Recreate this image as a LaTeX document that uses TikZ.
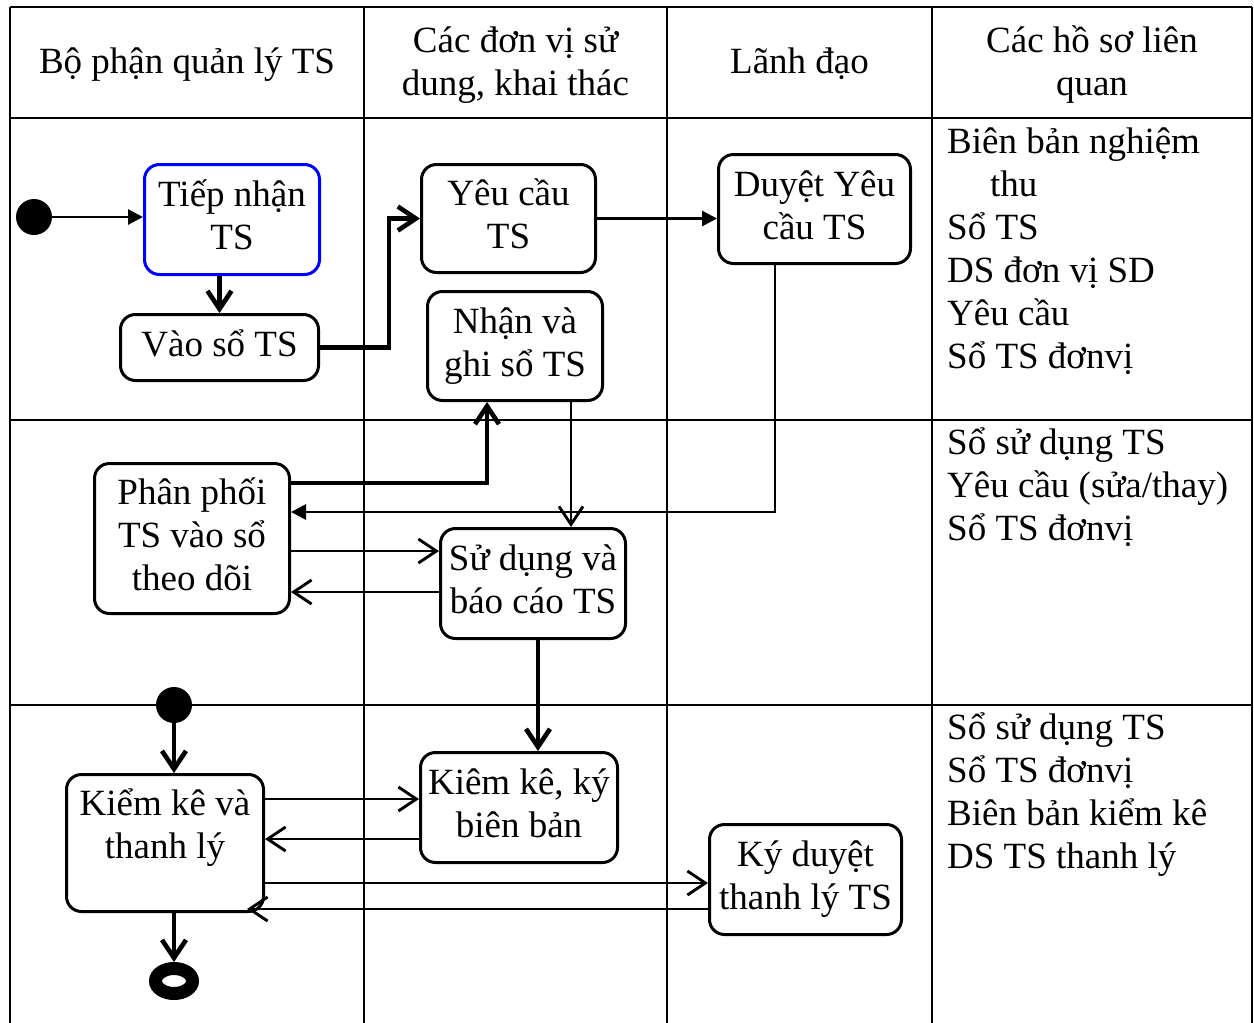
\documentclass[tikz,border=0pt]{standalone}
\usepackage{fontspec}
\setmainfont{Liberation Serif}
\usetikzlibrary{arrows.meta,shapes.geometric,calc}
\begin{document}
\begin{tikzpicture}[x=1pt,y=-1pt,
  grid/.style={line width=2.6pt},
  box/.style={draw, line width=3pt, rounded corners=15pt, rectangle, inner sep=0pt,
    anchor=north west, align=center, font=\fontsize{37}{43}\selectfont},
  txt/.style={inner sep=0pt, align=center, font=\fontsize{37}{43}\selectfont},
  doc/.style={inner sep=0pt, align=left, anchor=north west, font=\fontsize{37}{43}\selectfont},
  flow/.style={line width=2.9pt},
  bold flow/.style={line width=4.6pt},
  barb/.style={-{Straight Barb[length=18pt,width=24pt]}},
  tri/.style={-{Triangle[length=15pt,width=15pt]}},
  dot/.style={circle, fill=black, minimum size=36pt, inner sep=0pt},
]
\useasboundingbox (0,0) rectangle (1254,1023);

% swimlane table
\draw[grid] (10,7) -- (1252,7);
\draw[grid] (10,118) -- (1252,118);
\draw[grid] (10,420) -- (1252,420);
\draw[grid] (10,705) -- (1252,705);
\foreach \cx in {10,364,667,932,1252}
  \draw[grid] (\cx,7) -- (\cx,1023);

% lane headers
\node[txt] (h1) at (187,65) {\strut Bộ phận quản lý TS};
\node[txt] (h2) at (515.5,65) {\strut Các đơn vị sử\\\strut dung, khai thác};
\node[txt] (h3) at (799.5,65) {\strut Lãnh đạo};
\node[txt] (h4) at (1092,65) {\strut Các hồ sơ liên\\\strut quan};

% related documents
\node[doc] (docA) at (947,123) {\strut Biên bản nghiệm\\\strut\hspace*{43pt}thu\\\strut Sổ TS\\\strut DS đơn vị SD\\\strut Yêu cầu\\\strut Sổ TS đơnvị};
\node[doc] (docB) at (947,424) {\strut Sổ sử dụng TS\\\strut Yêu cầu (sửa/thay)\\\strut Sổ TS đơnvị};
\node[doc] (docC) at (947,709) {\strut Sổ sử dụng TS\\\strut Sổ TS đơnvị\\\strut Biên bản kiểm kê\\\strut DS TS thanh lý};

% start / end markers
\node[dot] (s1) at (34,217) {};
\node[dot] (s2) at (174,705) {};
\node[ellipse, draw=black, fill=white, line width=13pt, minimum width=37pt,
  minimum height=25pt, inner sep=0pt] (fin) at (174,981) {};

% activities
\node[box, draw=blue, minimum width=175pt, minimum height=110pt] (tn) at (143,163) {\strut Tiếp nhận\\\strut TS};
\node[box, minimum width=198pt, minimum height=66pt] (vs) at (119,313) {\strut Vào sổ TS};
\node[box, minimum width=174pt, minimum height=108pt] (yc) at (420,163) {\strut Yêu cầu\\\strut TS};
\node[box, minimum width=192pt, minimum height=109pt] (dy) at (717,153) {\strut Duyệt Yêu\\\strut cầu TS};
\node[box, minimum width=175pt, minimum height=109pt] (nh) at (426,290) {\strut Nhận và\\\strut ghi sổ TS};
\node[box, minimum width=195pt, minimum height=150pt] (pp) at (93,462) {\strut Phân phối\\\strut TS vào sổ\\\strut theo dõi};
\node[box, minimum width=185pt, minimum height=110pt] (sd) at (439,527) {\strut Sử dụng và\\\strut báo cáo TS};
\node[box, minimum width=197pt, minimum height=137pt] (kk) at (65,773) {};
\node[txt] (kkt) at ([yshift=15pt]kk.center) {\strut Kiểm kê và\\\strut thanh lý};
\node[box, minimum width=197pt, minimum height=110pt] (kb) at (419,751) {\strut Kiêm kê, ký\\\strut biên bản};
\node[box, minimum width=192pt, minimum height=110pt] (kd) at (708,823) {\strut Ký duyệt\\\strut thanh lý TS};

% return point at the lower right corner of the inventory activity
\coordinate (kkin) at (247,909);

% flows
\draw[flow, tri] (s1) -- (tn.west |- s1);
\draw[bold flow, barb] (tn.south -| vs.north) -- (vs.north);
\draw[bold flow, barb] (vs.east) -- ++(69,0) |- (yc.west);
\draw[flow, tri] (yc.east) -- (dy.west |- yc.east);
\draw[flow, tri] (dy.south -| 775,0) |- (pp.east |- 0,512);
\draw[bold flow, barb] (pp.east |- 0,483) -| (nh.south -| 487,0);
\draw[flow, barb] (nh.south -| 571,0) -- (sd.north -| 571,0);
\draw[flow, barb] (pp.east |- 0,551) -- (sd.west |- 0,551);
\draw[flow, barb] (sd.west |- 0,592) -- (pp.east |- 0,592);
\draw[bold flow, barb] (sd.south -| 538,0) -- (kb.north -| 538,0);
\draw[bold flow, barb] (s2) -- (kk.north -| s2);
\draw[flow, barb] (kk.east |- 0,799) -- (kb.west |- 0,799);
\draw[flow, barb] (kb.west |- 0,839) -- (kk.east |- 0,839);
\draw[flow, barb] (kk.east |- 0,883) -- (kd.west |- 0,883);
\draw[flow, barb] (kd.west |- kkin) -- (kkin);
\draw[bold flow, barb] (kk.south -| s2) -- (fin);
\end{tikzpicture}
\end{document}
